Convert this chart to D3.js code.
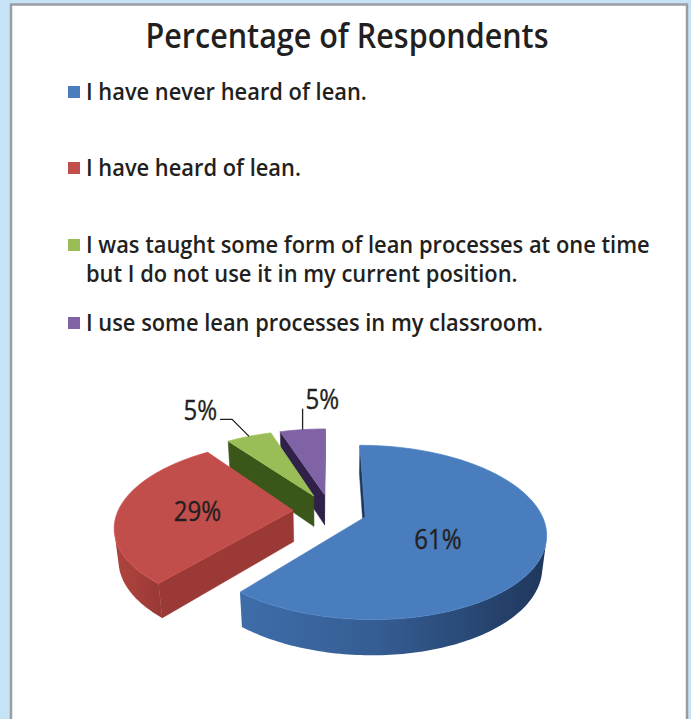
<!DOCTYPE html>
<html>
<head>
<meta charset="utf-8">
<script src="https://cdn.jsdelivr.net/npm/d3@7"></script>
<style>
  html, body { margin: 0; padding: 0; background: #c6e2f6; }
  svg { display: block; }
</style>
</head>
<body>
<svg id="chart" width="691" height="719"></svg>
<script>
// ---- data ----
const chartTitle = "Percentage of Respondents";
const categories = [
  "I have never heard of lean.",
  "I have heard of lean.",
  "I was taught some form of lean processes at one time but I do not use it in my current position.",
  "I use some lean processes in my classroom."
];
const legendLines = [
  ["I have never heard of lean."],
  ["I have heard of lean."],
  ["I was taught some form of lean processes at one time", "but I do not use it in my current position."],
  ["I use some lean processes in my classroom."]
];
const values = [61, 29, 5, 5];
const valueLabels = ["61%", "29%", "5%", "5%"];
const topColors = ["#4a7dbd", "#c24e4b", "#9abd57", "#8063a4"];
const wallLight = ["#3e6daa", "#ae433f", "#4f7026", "#46336a"];
const wallDark  = ["#1f375c", "#9a3936", "#3b5619", "#2f2148"];

const FONT = "'Open Sans', 'Noto Sans', 'Liberation Sans', sans-serif";
const INK = "#231f20";
const svg = d3.select("#chart");
const W = 691, Hh = 719;

// squeeze a text element horizontally about its own x position
function condense(sel, k) {
  sel.attr("transform", function() {
    const x = +this.getAttribute("x");
    return `translate(${x},0) scale(${k},1) translate(${-x},0)`;
  });
}

// ---- frame ----
svg.append("rect").attr("x", 0).attr("y", 0).attr("width", W).attr("height", Hh).attr("fill", "#c6e2f6");
svg.append("rect").attr("x", 11).attr("y", 4.5).attr("width", 676).attr("height", 760)
  .attr("fill", "#ffffff").attr("stroke", "#9a9ea3").attr("stroke-width", 2.5);

// ---- title ----
svg.append("text")
  .attr("x", 347).attr("y", 48)
  .attr("text-anchor", "middle")
  .attr("font-family", FONT).attr("font-size", 34).attr("font-weight", 600)
  .attr("fill", INK)
  .attr("textLength", 403).attr("lengthAdjust", "spacingAndGlyphs")
  .text(chartTitle);

// ---- legend ----
const legendY = [92, 168, 245, 323];
const legend = svg.append("g");
legendLines.forEach((lines, i) => {
  legend.append("rect")
    .attr("x", 68).attr("y", legendY[i] - 6).attr("width", 12).attr("height", 12)
    .attr("fill", topColors[i]);
  lines.forEach((ln, j) => {
    legend.append("text")
      .attr("class", "lg")
      .attr("x", 86).attr("y", legendY[i] + 8.5 + j * 29)
      .attr("font-family", FONT).attr("font-size", 23.5).attr("font-weight", 600)
      .attr("fill", INK)
      .text(ln);
  });
});
// condense legend text so the longest line fits its box
const longest = d3.max(legend.selectAll("text.lg").nodes(), n => n.getComputedTextLength());
condense(legend.selectAll("text.lg"), 564 / longest);

// ---- 3D exploded pie ----
const R = 175, DEPTH = 36, EXPLODE = 37;
const TILT = Math.asin(0.47), DIST = 880;
const CX = 330, CY = 511;
const sa = Math.sin(TILT), ca = Math.cos(TILT);
const cam = [0, DIST * sa, DIST * ca]; // camera position in world (x, y, z)

function project(px, py, pz) {
  const Y = py * ca - pz * sa;
  const zv = pz * ca + py * sa;
  const s = DIST / (DIST - zv);
  return [CX + px * s, CY - Y * s];
}
// point on the disc: angle clockwise from 12 o'clock, radius r, slice offset, height y
function world(theta, r, off, y) {
  return [off[0] + r * Math.sin(theta), y, off[1] - r * Math.cos(theta)];
}
function pt(theta, r, off, y) { const w = world(theta, r, off, y); return project(w[0], w[1], w[2]); }

const arcs = d3.pie().sort(null).value(d => d)(values).map((a, i) => {
  const mid = (a.startAngle + a.endAngle) / 2;
  return { ...a, i, mid, off: [EXPLODE * Math.sin(mid), -EXPLODE * Math.cos(mid)] };
});

const line = d3.line();
const defs = svg.append("defs");
const pieG = svg.append("g");

function facing(normal, p) {
  return normal[0] * (cam[0] - p[0]) + normal[1] * (cam[1] - p[1]) + normal[2] * (cam[2] - p[2]) > 0;
}
function samples(a0, a1) {
  const n = Math.max(8, Math.ceil((a1 - a0) / 0.02));
  return d3.range(n + 1).map(k => a0 + (a1 - a0) * k / n);
}

// back-to-front order by slice centroid depth
const order = arcs.slice().sort((p, q) =>
  (p.off[1] - Math.cos(p.mid) * R * 0.5) - (q.off[1] - Math.cos(q.mid) * R * 0.5));

order.forEach(a => {
  const g = pieG.append("g");
  const i = a.i;
  // radial walls
  const walls = [
    { th: a.startAngle, n: [-Math.cos(a.startAngle), 0, -Math.sin(a.startAngle)] },
    { th: a.endAngle,   n: [ Math.cos(a.endAngle),  0,  Math.sin(a.endAngle)] }
  ];
  walls.forEach(w => {
    const P = world(0, 0, a.off, 0);
    if (!facing(w.n, P)) return;
    const poly = [pt(0, 0, a.off, 0), pt(w.th, R, a.off, 0), pt(w.th, R, a.off, -DEPTH), pt(0, 0, a.off, -DEPTH)];
    g.append("path").attr("d", line(poly) + "Z").attr("fill", wallDark[i])
      .attr("stroke", wallDark[i]).attr("stroke-width", 0.5);
  });
  // outer wall, front-facing runs only
  const ths = samples(a.startAngle, a.endAngle);
  let runs = [], cur = [];
  ths.forEach(t => {
    const vis = facing([Math.sin(t), 0, -Math.cos(t)], world(t, R, a.off, 0));
    if (vis) cur.push(t); else if (cur.length) { runs.push(cur); cur = []; }
  });
  if (cur.length) runs.push(cur);
  runs.forEach((run, k) => {
    if (run.length < 2) return;
    const top = run.map(t => pt(t, R, a.off, 0));
    const bot = run.map(t => pt(t, R, a.off, -DEPTH)).reverse();
    const xs = top.map(p => p[0]);
    const gid = `wall${i}_${k}`;
    const gr = defs.append("linearGradient").attr("id", gid)
      .attr("gradientUnits", "userSpaceOnUse")
      .attr("x1", d3.min(xs)).attr("x2", d3.max(xs)).attr("y1", 0).attr("y2", 0);
    gr.append("stop").attr("offset", "0%").attr("stop-color", wallLight[i]);
    gr.append("stop").attr("offset", "45%").attr("stop-color", d3.interpolateRgb(wallLight[i], wallDark[i])(0.3));
    gr.append("stop").attr("offset", "100%").attr("stop-color", wallDark[i]);
    g.append("path").attr("d", line(top.concat(bot)) + "Z").attr("fill", `url(#${gid})`);
  });
  // top face
  const topPoly = [pt(0, 0, a.off, 0)].concat(ths.map(t => pt(t, R, a.off, 0)));
  g.append("path").attr("d", line(topPoly) + "Z").attr("fill", topColors[i])
    .attr("stroke", d3.color(topColors[i]).brighter(0.15)).attr("stroke-width", 0.8);
});

// ---- data labels ----
const labelG = svg.append("g").attr("font-family", FONT).attr("fill", INK)
  .attr("stroke", INK).attr("stroke-width", 0.35)
  .attr("font-size", 28).attr("font-weight", 400);
const inside = [0.42, 0.55];
const LABEL_SQUEEZE = 0.86;
arcs.forEach(a => {
  let t;
  if (a.i < 2) {
    const p = pt(a.mid, R * inside[a.i], a.off, 0);
    t = labelG.append("text").attr("x", p[0]).attr("y", p[1] + (a.i === 0 ? 20 : 12))
      .attr("text-anchor", "middle").text(valueLabels[a.i]);
  } else {
    const p = pt(a.mid, R, a.off, 0);
    if (a.i === 2) {
      const elbow = [p[0] - 17, p[1] - 17];
      const end = [elbow[0] - 12, elbow[1]];
      svg.append("path").attr("d", line([p, elbow, end])).attr("fill", "none")
        .attr("stroke", INK).attr("stroke-width", 1.3);
      t = labelG.append("text").attr("x", end[0] - 3).attr("y", end[1] + 1)
        .attr("text-anchor", "end").text(valueLabels[a.i]);
    } else {
      const end = [p[0], p[1] - 21];
      svg.append("path").attr("d", line([p, end])).attr("fill", "none")
        .attr("stroke", INK).attr("stroke-width", 1.3);
      t = labelG.append("text").attr("x", end[0] + 3).attr("y", end[1])
        .attr("text-anchor", "start").text(valueLabels[a.i]);
    }
  }
  condense(t, LABEL_SQUEEZE);
});
</script>
</body>
</html>
